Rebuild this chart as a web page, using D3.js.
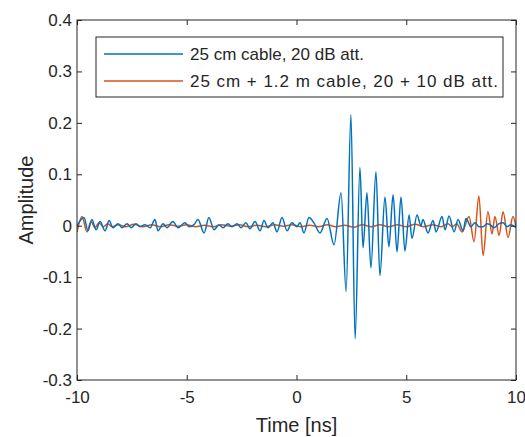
<!DOCTYPE html>
<html>
<head>
<meta charset="utf-8">
<script src="https://cdn.jsdelivr.net/npm/d3@7"></script>
<style>
body{margin:0;background:#fff;}
text{font-family:"Liberation Sans",Arial,sans-serif;fill:#262626;}
.axis line{stroke:#262626;}
</style>
</head>
<body>
<div id="canvas"></div>
<script>
// time axis (ns) and amplitude ticks
var xTicks = [-10, -5, 0, 5, 10];
var yTicks = [-0.3, -0.2, -0.1, 0, 0.1, 0.2, 0.3, 0.4];
var seriesNames = ['25 cm cable, 20 dB att.', '25 cm + 1.2 m cable, 20 + 10 dB att.'];

// turning points: [time ns, amplitude]
var shortCable = [
  [-10.00,0],[-9.68,0.016],[-9.50,-0.010],[-9.32,0.012],[-9.13,-0.008],[-8.95,0.008],
  [-8.72,-0.010],[-8.54,0.010],[-8.36,-0.004],[-8.13,0.004],[-7.95,-0.004],[-7.72,0.004],
  [-7.54,-0.004],[-7.31,0.004],[-7.13,-0.002],[-6.90,0.002],[-6.67,-0.004],[-6.45,0.012],
  [-6.31,-0.010],[-6.08,0.004],[-5.90,-0.004],[-5.63,0.008],[-5.40,-0.004],[-5.08,0.006],
  [-4.90,-0.002],[-4.67,0.002],[-4.49,0.012],[-4.21,-0.014],[-3.99,0.016],[-3.76,-0.008],
  [-3.53,0.002],[-3.35,-0.004],[-3.12,0.004],[-2.94,-0.002],[-2.71,0.004],[-2.53,-0.004],
  [-2.30,0.006],[-2.12,-0.006],[-1.89,0.008],[-1.66,-0.010],[-1.48,0.010],[-1.30,-0.004],
  [-1.07,0.006],[-0.89,-0.012],[-0.66,0.016],[-0.43,-0.010],[-0.21,0.006],[0.02,-0.002],
  [0.16,0.006],[0.34,-0.014],[0.57,0.016],[0.80,0.005],[1.07,-0.014],[1.39,0.014],
  [1.71,-0.037],[2.03,0.064],[2.26,-0.128],[2.48,0.216],[2.67,-0.220],[2.89,0.113],
  [3.03,-0.043],[3.21,0.064],[3.39,-0.082],[3.62,0.105],[3.80,-0.097],[4.03,0.056],
  [4.21,-0.041],[4.40,0.060],[4.58,-0.051],[4.76,0.056],[4.94,-0.049],[5.13,0.021],
  [5.26,-0.025],[5.49,0.021],[5.67,0.000],[5.76,0.012],[5.99,-0.014],[6.22,0.010],
  [6.36,-0.012],[6.63,0.018],[6.77,-0.008],[6.95,0.019],[7.18,-0.012],[7.36,0.012],
  [7.59,-0.010],[7.72,0.014],[7.95,-0.002],[8.13,0.006],[8.31,-0.002],[8.50,-0.002],
  [8.68,0.004],[8.82,0.002],[9.00,-0.004],[9.23,0.004],[9.41,0.006],[9.59,-0.002],
  [9.77,0.002],[10.00,-0.004]
];
var longCable = [
  [-10.00,-0.012],[-9.77,0.018],[-9.55,-0.012],[-9.36,0.008],[-9.18,-0.004],[-9.00,0.006],
  [-8.80,-0.002],[-8.60,0.004],[-8.40,-0.002],[-8.10,0.002],[-7.80,-0.002],[-7.40,0.003],
  [-7.00,-0.002],[-6.60,0.002],[-6.20,-0.002],[-5.80,0.002],[-5.40,-0.001],[-5.00,0.002],
  [-4.60,-0.002],[-4.20,0.001],[-3.80,-0.002],[-3.40,0.002],[-3.00,-0.001],[-2.60,0.002],
  [-2.20,-0.002],[-1.80,0.001],[-1.40,-0.002],[-1.00,0.002],[-0.60,-0.001],[-0.20,0.002],
  [0.20,-0.002],[0.60,0.001],[1.00,-0.002],[1.40,0.002],[1.80,-0.002],[2.20,0.001],
  [2.60,-0.003],[3.00,0.002],[3.40,-0.002],[3.80,0.002],[4.20,-0.002],[4.60,0.002],
  [5.00,-0.002],[5.40,0.003],[5.80,-0.002],[6.20,0.002],[6.60,-0.002],[6.90,0.004],
  [7.10,-0.002],[7.30,0.004],[7.54,-0.012],[7.86,0.018],[8.09,-0.031],[8.31,0.058],
  [8.50,-0.058],[8.72,0.027],[8.91,-0.016],[9.04,0.018],[9.23,-0.019],[9.41,0.027],
  [9.64,-0.023],[9.86,0.018],[10.00,-0.002]
];
var colors = ['#0072BD', '#D95319'];

var W = 525, H = 437;
var m = {t:20, r:9, b:57, l:77};
var w = W - m.l - m.r, h = H - m.t - m.b;

var svg = d3.select('#canvas').append('svg')
  .attr('width', W).attr('height', H);
var plot = svg.append('g')
  .attr('transform', 'translate(' + m.l + ',' + m.t + ')');

var scaleX = d3.scaleLinear().domain([-10, 10]).range([0, w]);
var scaleY = d3.scaleLinear().domain([-0.3, 0.4]).range([h, 0]);

plot.append('defs').append('clipPath').attr('id', 'clip')
  .append('rect').attr('width', w).attr('height', h);

var line = d3.line()
  .x(function(d){return scaleX(d[0]);})
  .y(function(d){return scaleY(d[1]);})
  .curve(d3.curveMonotoneX);

var lines = plot.append('g').attr('clip-path', 'url(#clip)');
[longCable, shortCable].forEach(function(s, i){
  lines.append('path')
    .datum(s)
    .attr('d', line)
    .attr('fill', 'none')
    .attr('stroke', colors[1 - i])
    .attr('stroke-width', 1.5)
    .attr('stroke-linejoin', 'round');
});

// axes, ticks inward on all four sides, hyphen minus like the picture
var axisB = d3.axisBottom(scaleX).tickValues(xTicks).tickSize(-5).tickPadding(11)
  .tickFormat(function(d){ return String(d); });
var axisT = d3.axisTop(scaleX).tickValues(xTicks).tickSize(-5).tickFormat('');
var axisL = d3.axisLeft(scaleY).tickValues(yTicks).tickSize(-5).tickPadding(5)
  .tickFormat(function(d){ return Math.abs(d) < 1e-9 ? '0' : d.toFixed(1); });
var axisR = d3.axisRight(scaleY).tickValues(yTicks).tickSize(-5).tickFormat('');

plot.append('g').attr('class', 'axis').attr('transform', 'translate(0,' + h + ')').call(axisB);
plot.append('g').attr('class', 'axis').call(axisT);
plot.append('g').attr('class', 'axis').call(axisL);
plot.append('g').attr('class', 'axis').attr('transform', 'translate(' + w + ',0)').call(axisR);
plot.selectAll('.axis path.domain').remove();
plot.append('rect').attr('width', w).attr('height', h)
  .attr('fill', 'none').attr('stroke', '#262626').attr('stroke-width', 1);
plot.selectAll('.axis text').style('font-size', '17px').attr('fill', '#262626');

// axis titles
svg.append('text').attr('x', m.l + w / 2).attr('y', 432)
  .attr('text-anchor', 'middle').style('font-size', '20px').text('Time [ns]');
svg.append('text').attr('transform', 'translate(33,' + (m.t + h / 2) + ') rotate(-90)')
  .attr('text-anchor', 'middle').style('font-size', '20px').text('Amplitude');

// legend
var lg = svg.append('g').attr('transform', 'translate(96,37)');
lg.append('rect').attr('width', 407).attr('height', 60)
  .attr('fill', '#fff').attr('stroke', '#262626').attr('stroke-width', 1);
seriesNames.forEach(function(name, i){
  var y = 17 + i * 27;
  lg.append('line').attr('x1', 8).attr('x2', 87).attr('y1', y).attr('y2', y)
    .attr('stroke', colors[i]).attr('stroke-width', 1.5);
  var t = lg.append('text').attr('x', 94).attr('y', y + 6).style('font-size', '17px').text(name);
  if (i === 1) t.attr('textLength', 308).attr('lengthAdjust', 'spacing');
});
</script>
</body>
</html>
